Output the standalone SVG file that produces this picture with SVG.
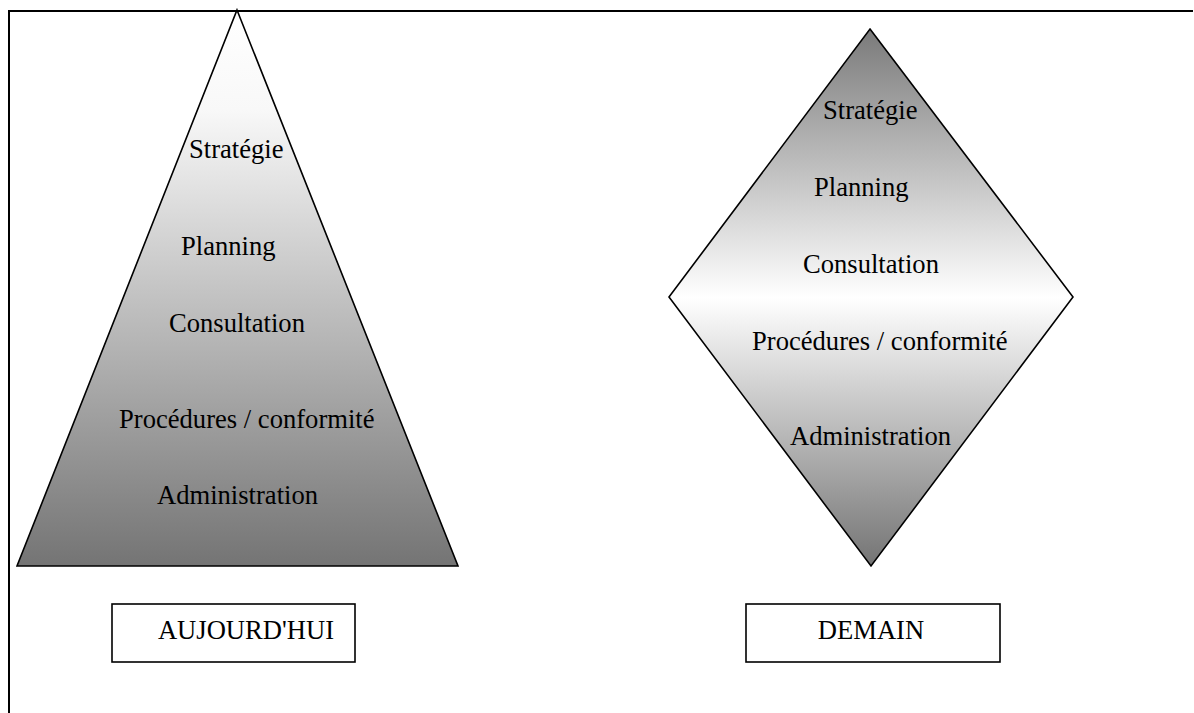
<svg xmlns="http://www.w3.org/2000/svg" width="1194" height="713" viewBox="0 0 1194 713">
<style>
.shape{stroke:#000;stroke-width:1.6;stroke-linejoin:miter}
.box{fill:#fff;stroke:#000;stroke-width:1.6}
.t{font-family:"Liberation Serif","Times New Roman",serif;font-size:26.6px;fill:#000}
.lbl{font-family:"Liberation Serif","Times New Roman",serif;font-size:26.6px;fill:#000;text-anchor:middle}
.frame{stroke:#000;stroke-width:2;fill:none}
</style>
<defs>
<linearGradient id="gTri" x1="0" y1="0" x2="0" y2="1">
<stop offset="0" stop-color="#ffffff"/>
<stop offset="0.18" stop-color="#f8f8f8"/>
<stop offset="1" stop-color="#747474"/>
</linearGradient>
<linearGradient id="gDia" x1="0" y1="0" x2="0" y2="1">
<stop offset="0" stop-color="#7a7a7a"/>
<stop offset="0.5" stop-color="#ffffff"/>
<stop offset="1" stop-color="#747474"/>
</linearGradient>
</defs>
<rect width="1194" height="713" fill="#fff"/>
<g id="frame">
<path class="frame" d="M9,713 V11 H1193"/>
</g>
<g id="pyramid">
<polygon class="shape" fill="url(#gTri)" points="237,10 458,566 17,566"/>
<text class="t" x="189" y="158">Stratégie</text>
<text class="t" x="181" y="255">Planning</text>
<text class="t" x="169" y="332">Consultation</text>
<text class="t" x="119" y="428">Procédures / conformité</text>
<text class="t" x="157" y="504">Administration</text>
</g>
<g id="diamond">
<polygon class="shape" fill="url(#gDia)" points="870,29 1073,297 871,566 669,297"/>
<text class="t" x="823" y="119">Stratégie</text>
<text class="t" x="814" y="196">Planning</text>
<text class="t" x="803" y="273">Consultation</text>
<text class="t" x="752" y="350">Procédures / conformité</text>
<text class="t" x="790" y="445">Administration</text>
</g>
<g id="today">
<rect class="box" x="112" y="604" width="243" height="58"/>
<text class="lbl" x="246" y="639">AUJOURD'HUI</text>
</g>
<g id="tomorrow">
<rect class="box" x="746" y="604" width="254" height="58"/>
<text class="lbl" x="871" y="639">DEMAIN</text>
</g>
<g id="connectors"></g>
</svg>
